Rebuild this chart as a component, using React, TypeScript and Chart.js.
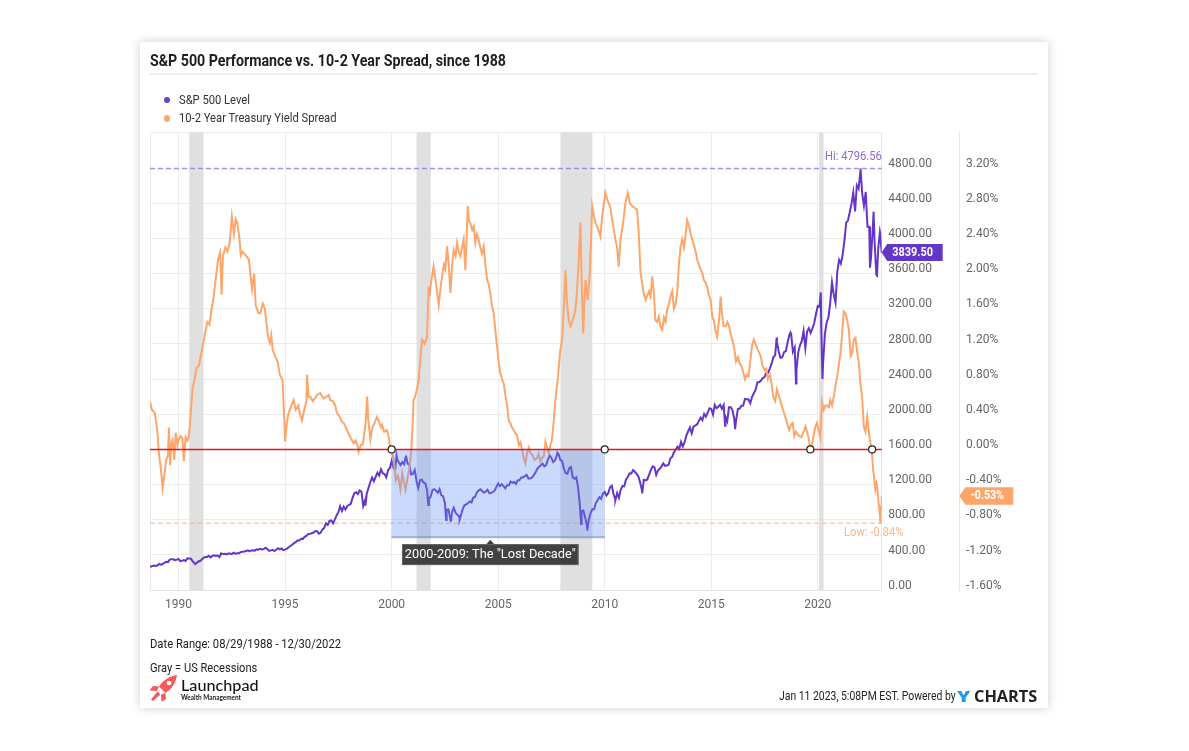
import React, { useEffect, useLayoutEffect, useRef } from "react";
import { Chart, registerables } from "chart.js";

Chart.register(...registerables);

// ---------------- DATA ----------------
const TITLE = "S&P 500 Performance vs. 10-2 Year Spread, since 1988";
const SERIES_NAMES = ["S&P 500 Level", "10-2 Year Treasury Yield Spread"];
const COLORS = { sp: "#6535c9", spread: "#fca66b", spDot: "#6a3fcb", spreadDot: "#fca66b" };

const X_MIN = 1988.66; // 08/29/1988
const X_MAX = 2023.0; // 12/30/2022
const yearTicks = [1990, 1995, 2000, 2005, 2010, 2015, 2020];
const spTicks = [0, 400, 800, 1200, 1600, 2000, 2400, 2800, 3200, 3600, 4000, 4400, 4800];
const spreadTicks = [-1.6, -1.2, -0.8, -0.4, 0, 0.4, 0.8, 1.2, 1.6, 2.0, 2.4, 2.8, 3.2];
const SP_MIN = 0;
const SP_MAX = 5208;
const SPREAD_MIN = -1.6;
const SPREAD_MAX = 3.608;

// US recessions (decimal years)
const recessions: [number, number][] = [
  [1990.5, 1991.17],
  [2001.17, 2001.84],
  [2007.92, 2009.42],
  [2020.06, 2020.27],
];

// S&P 500 first point and month-end closes, Sep 1988 .. Dec 2022
const spFirst: [number, number] = [1988.66, 262];
const spMonthEnd = [
  272, 279, 274, 278,
  297, 289, 295, 310, 321, 318, 346, 351, 349, 340, 346, 353,
  329, 332, 340, 331, 361, 358, 356, 323, 306, 304, 322, 330,
  344, 367, 375, 375, 390, 371, 388, 395, 388, 392, 375, 417,
  409, 413, 404, 415, 415, 408, 424, 414, 418, 419, 431, 436,
  439, 443, 452, 440, 450, 451, 448, 464, 459, 468, 462, 466,
  482, 467, 446, 451, 457, 444, 458, 475, 463, 472, 454, 459,
  470, 487, 501, 515, 533, 545, 562, 562, 584, 582, 605, 616,
  636, 640, 646, 654, 669, 671, 640, 652, 687, 705, 757, 741,
  786, 791, 757, 801, 848, 885, 954, 899, 947, 915, 955, 970,
  980, 1049, 1102, 1112, 1091, 1134, 1121, 957, 1017, 1099, 1164, 1229,
  1280, 1238, 1286, 1335, 1302, 1373, 1329, 1320, 1283, 1363, 1389, 1469,
  1394, 1366, 1499, 1452, 1421, 1455, 1431, 1518, 1437, 1429, 1315, 1320,
  1366, 1240, 1160, 1249, 1256, 1224, 1211, 1134, 1041, 1060, 1139, 1148,
  1130, 1107, 1147, 1077, 1067, 990, 912, 916, 815, 886, 936, 880,
  856, 841, 848, 917, 964, 975, 990, 1008, 996, 1051, 1058, 1112,
  1131, 1145, 1126, 1107, 1121, 1141, 1102, 1104, 1115, 1130, 1174, 1212,
  1181, 1204, 1181, 1157, 1192, 1191, 1234, 1220, 1229, 1207, 1249, 1248,
  1280, 1281, 1295, 1311, 1270, 1270, 1277, 1304, 1336, 1378, 1401, 1418,
  1438, 1407, 1421, 1482, 1531, 1503, 1455, 1474, 1527, 1549, 1481, 1468,
  1379, 1331, 1323, 1386, 1400, 1280, 1267, 1283, 1166, 969, 896, 903,
  826, 735, 798, 873, 919, 919, 987, 1021, 1057, 1036, 1096, 1115,
  1074, 1104, 1169, 1187, 1089, 1031, 1102, 1049, 1141, 1183, 1181, 1258,
  1286, 1327, 1326, 1364, 1345, 1321, 1292, 1219, 1131, 1253, 1247, 1258,
  1312, 1366, 1408, 1398, 1310, 1362, 1379, 1407, 1441, 1412, 1416, 1426,
  1498, 1515, 1569, 1598, 1631, 1606, 1686, 1633, 1682, 1757, 1806, 1848,
  1783, 1859, 1872, 1884, 1924, 1960, 1931, 2003, 1972, 2018, 2068, 2059,
  1995, 2105, 2068, 2086, 2107, 2063, 2104, 1972, 1920, 2079, 2080, 2044,
  1940, 1932, 2060, 2065, 2097, 2099, 2174, 2171, 2168, 2126, 2199, 2239,
  2279, 2364, 2363, 2384, 2412, 2423, 2470, 2472, 2519, 2575, 2648, 2674,
  2824, 2714, 2641, 2648, 2705, 2718, 2816, 2902, 2914, 2712, 2760, 2507,
  2704, 2784, 2834, 2946, 2752, 2942, 2980, 2926, 2977, 3038, 3141, 3231,
  3226, 2954, 2585, 2912, 3044, 3100, 3271, 3500, 3363, 3270, 3622, 3756,
  3714, 3811, 3973, 4181, 4204, 4298, 4395, 4523, 4308, 4605, 4567, 4766,
  4516, 4374, 4530, 4132, 4132, 3785, 4130, 3955, 3586, 3872, 4080, 3839.5,
];
const SP_FIRST_MONTH = 9; // September 1988
// intra-month highs / lows seen on the chart
const spExtremes: [number, number][] = [
  [1990.78, 295], [1998.77, 959], [2000.23, 1527], [2000.68, 1520], [2001.72, 966],
  [2002.56, 797], [2002.78, 777], [2003.19, 800], [2007.78, 1565], [2008.89, 752],
  [2009.18, 677], [2010.5, 1022], [2011.76, 1099], [2015.65, 1868], [2016.12, 1829],
  [2018.07, 2873], [2018.72, 2930], [2018.98, 2351], [2020.14, 3386], [2020.22, 2400],
  [2022.005, 4796.56], [2022.45, 3667], [2022.62, 4305], [2022.78, 3577], [2022.92, 4076],
];

// 10-2 year spread (%), [decimal year, value]
const spreadPoints: [number, number][] = [
  [1988.66, 0.54], [1988.75, 0.45], [1988.88, 0.42], [1989.0, 0.22], [1989.08, -0.05],
  [1989.17, -0.22], [1989.25, -0.44], [1989.33, -0.3], [1989.42, -0.12], [1989.5, -0.07],
  [1989.55, 0.25], [1989.6, -0.18], [1989.67, 0.08], [1989.72, 0.11], [1989.8, -0.12],
  [1989.87, 0.19], [1989.95, 0.05], [1990.0, 0.11], [1990.1, 0.15], [1990.18, 0.13],
  [1990.25, -0.13], [1990.33, 0.14], [1990.42, 0.1], [1990.48, 0.14], [1990.55, 0.33],
  [1990.65, 0.68], [1990.75, 0.8], [1990.85, 0.93], [1990.95, 0.95], [1991.05, 1.07],
  [1991.15, 1.2], [1991.25, 1.33], [1991.35, 1.45], [1991.45, 1.42], [1991.55, 1.6],
  [1991.65, 1.74], [1991.75, 1.95], [1991.85, 2.16], [1991.95, 2.24], [1992.02, 1.76],
  [1992.08, 2.2], [1992.2, 2.3], [1992.3, 2.25], [1992.4, 2.35], [1992.5, 2.65],
  [1992.6, 2.45], [1992.68, 2.62], [1992.75, 2.58], [1992.85, 2.42], [1992.92, 2.21],
  [1993.0, 2.25], [1993.15, 2.21], [1993.3, 2.16], [1993.45, 1.82], [1993.55, 2.0],
  [1993.62, 1.64], [1993.75, 1.55], [1993.84, 1.55], [1993.95, 1.66], [1994.05, 1.6],
  [1994.12, 1.45], [1994.2, 1.28], [1994.28, 1.21], [1994.35, 1.3], [1994.42, 1.13],
  [1994.55, 1.05], [1994.65, 1.0], [1994.75, 0.85], [1994.88, 0.79], [1994.95, 0.4],
  [1995.0, 0.09], [1995.08, 0.3], [1995.16, 0.41], [1995.3, 0.5], [1995.4, 0.56],
  [1995.5, 0.45], [1995.63, 0.5], [1995.7, 0.4], [1995.79, 0.33], [1995.9, 0.45],
  [1996.0, 0.55], [1996.03, 0.85], [1996.1, 0.6], [1996.18, 0.6], [1996.3, 0.55],
  [1996.4, 0.58], [1996.5, 0.62], [1996.65, 0.64], [1996.8, 0.58], [1996.95, 0.6],
  [1997.05, 0.62], [1997.12, 0.56], [1997.25, 0.55], [1997.35, 0.5], [1997.44, 0.41],
  [1997.55, 0.38], [1997.65, 0.32], [1997.75, 0.3], [1997.85, 0.25], [1997.98, 0.18],
  [1998.1, 0.12], [1998.22, 0.07], [1998.32, 0.1], [1998.4, 0.04], [1998.45, -0.03],
  [1998.55, 0.05], [1998.65, 0.06], [1998.69, 0.14], [1998.78, 0.3], [1998.85, 0.6],
  [1998.9, 0.35], [1999.0, 0.11], [1999.1, 0.25], [1999.2, 0.3], [1999.31, 0.37],
  [1999.4, 0.32], [1999.5, 0.25], [1999.55, 0.28], [1999.65, 0.2], [1999.78, 0.22],
  [1999.88, 0.12], [1999.94, 0.0], [2000.02, -0.05], [2000.1, -0.12], [2000.2, -0.35],
  [2000.3, -0.3], [2000.41, -0.46], [2000.5, -0.27], [2000.58, -0.38], [2000.65, -0.46],
  [2000.75, -0.32], [2000.82, -0.24], [2000.91, -0.04], [2000.97, 0.2], [2001.03, 0.56],
  [2001.1, 0.6], [2001.2, 0.7], [2001.27, 0.79], [2001.35, 1.05], [2001.43, 1.25],
  [2001.55, 1.2], [2001.66, 1.28], [2001.74, 1.85], [2001.78, 1.74], [2001.85, 1.9],
  [2001.97, 2.08], [2002.05, 1.95], [2002.13, 1.8], [2002.21, 1.64], [2002.3, 1.85],
  [2002.37, 1.97], [2002.45, 2.1], [2002.52, 2.05], [2002.6, 2.31], [2002.68, 2.1],
  [2002.76, 1.78], [2002.84, 2.1], [2002.91, 2.27], [2003.0, 2.2], [2003.07, 2.35],
  [2003.15, 2.25], [2003.23, 2.2], [2003.3, 2.3], [2003.38, 2.39], [2003.46, 2.04],
  [2003.52, 2.4], [2003.57, 2.77], [2003.63, 2.6], [2003.69, 2.58], [2003.78, 2.5],
  [2003.85, 2.54], [2003.93, 2.35], [2004.0, 2.45], [2004.08, 2.39], [2004.16, 2.3],
  [2004.24, 2.23], [2004.32, 2.31], [2004.4, 2.1], [2004.48, 1.93], [2004.55, 1.88],
  [2004.63, 1.78], [2004.7, 1.65], [2004.79, 1.55], [2004.87, 1.35], [2004.95, 1.17],
  [2005.02, 1.0], [2005.1, 0.87], [2005.18, 0.8], [2005.26, 0.75], [2005.35, 0.6],
  [2005.42, 0.5], [2005.49, 0.33], [2005.57, 0.3], [2005.65, 0.25], [2005.73, 0.22],
  [2005.81, 0.18], [2005.89, 0.16], [2005.97, 0.05], [2006.05, 0.08], [2006.12, 0.0],
  [2006.2, -0.1], [2006.28, -0.16], [2006.36, -0.04], [2006.44, 0.02], [2006.51, -0.04],
  [2006.6, -0.06], [2006.7, -0.12], [2006.83, -0.1], [2006.9, -0.05], [2006.98, -0.14],
  [2007.06, -0.1], [2007.14, -0.08], [2007.22, 0.09], [2007.3, 0.02], [2007.37, -0.04],
  [2007.45, 0.05], [2007.52, 0.1], [2007.6, 0.3], [2007.68, 0.55], [2007.75, 0.7],
  [2007.82, 0.85], [2007.9, 1.1], [2008.0, 1.25], [2008.08, 1.6], [2008.16, 2.04],
  [2008.22, 1.7], [2008.31, 1.47], [2008.4, 1.4], [2008.47, 1.45], [2008.55, 1.51],
  [2008.63, 1.6], [2008.7, 1.8], [2008.78, 2.16], [2008.86, 2.58], [2008.93, 1.8],
  [2008.99, 1.32], [2009.05, 1.7], [2009.1, 1.93], [2009.2, 1.7], [2009.3, 2.01],
  [2009.36, 2.4], [2009.41, 2.77], [2009.5, 2.65], [2009.57, 2.58], [2009.7, 2.5],
  [2009.8, 2.42], [2009.88, 2.65], [2009.96, 2.8], [2010.03, 2.92], [2010.11, 2.85],
  [2010.19, 2.8], [2010.27, 2.75], [2010.35, 2.61], [2010.43, 2.5], [2010.5, 2.39],
  [2010.58, 2.3], [2010.66, 2.08], [2010.74, 2.39], [2010.85, 2.55], [2010.97, 2.8],
  [2011.08, 2.92], [2011.18, 2.8], [2011.29, 2.77], [2011.4, 2.75], [2011.52, 2.73],
  [2011.6, 2.46], [2011.68, 2.01], [2011.75, 1.9], [2011.83, 1.78], [2011.92, 1.7],
  [2012.0, 1.75], [2012.08, 1.8], [2012.15, 1.74], [2012.23, 1.97], [2012.3, 1.8],
  [2012.38, 1.47], [2012.46, 1.45], [2012.54, 1.51], [2012.62, 1.4], [2012.7, 1.36],
  [2012.78, 1.5], [2012.86, 1.45], [2012.93, 1.59], [2013.01, 1.65], [2013.09, 1.74],
  [2013.17, 1.8], [2013.25, 1.6], [2013.33, 1.66], [2013.4, 1.78], [2013.48, 2.1],
  [2013.56, 2.31], [2013.64, 2.39], [2013.72, 2.3], [2013.8, 2.45], [2013.87, 2.61],
  [2013.95, 2.55], [2014.03, 2.46], [2014.12, 2.38], [2014.2, 2.31], [2014.27, 2.25],
  [2014.34, 2.16], [2014.42, 2.1], [2014.5, 2.05], [2014.58, 2.01], [2014.65, 1.93],
  [2014.73, 1.9], [2014.81, 1.85], [2014.89, 1.75], [2014.97, 1.7], [2015.05, 1.5],
  [2015.12, 1.47], [2015.2, 1.35], [2015.28, 1.28], [2015.36, 1.45], [2015.44, 1.74],
  [2015.5, 1.55], [2015.58, 1.4], [2015.68, 1.4], [2015.76, 1.45], [2015.84, 1.4],
  [2015.92, 1.3], [2015.99, 1.25], [2016.08, 1.15], [2016.16, 1.0], [2016.25, 1.05],
  [2016.33, 0.98], [2016.42, 0.95], [2016.5, 0.88], [2016.58, 0.8], [2016.66, 0.85],
  [2016.75, 0.83], [2016.83, 1.0], [2016.92, 1.19], [2017.0, 1.25], [2017.08, 1.2],
  [2017.16, 1.15], [2017.25, 1.1], [2017.33, 1.05], [2017.41, 0.95], [2017.5, 0.9],
  [2017.58, 0.92], [2017.66, 0.8], [2017.75, 0.85], [2017.83, 0.75], [2017.91, 0.6],
  [2018.0, 0.55], [2018.08, 0.68], [2018.16, 0.62], [2018.25, 0.55], [2018.33, 0.48],
  [2018.41, 0.42], [2018.5, 0.35], [2018.58, 0.28], [2018.66, 0.22], [2018.74, 0.28],
  [2018.82, 0.3], [2018.9, 0.15], [2018.98, 0.2], [2019.06, 0.17], [2019.14, 0.15],
  [2019.22, 0.14], [2019.3, 0.18], [2019.38, 0.22], [2019.42, 0.26], [2019.5, 0.2],
  [2019.58, 0.12], [2019.65, 0.0], [2019.72, 0.05], [2019.8, 0.15], [2019.89, 0.26],
  [2019.96, 0.3], [2020.04, 0.22], [2020.12, 0.14], [2020.2, 0.54], [2020.28, 0.45],
  [2020.36, 0.5], [2020.44, 0.5], [2020.52, 0.48], [2020.59, 0.56], [2020.67, 0.5],
  [2020.75, 0.6], [2020.83, 0.72], [2020.91, 0.83], [2020.98, 0.95], [2021.06, 1.09],
  [2021.14, 1.3], [2021.22, 1.57], [2021.3, 1.55], [2021.38, 1.47], [2021.46, 1.36],
  [2021.54, 1.06], [2021.62, 1.1], [2021.69, 1.25], [2021.77, 1.27], [2021.85, 1.1],
  [2021.93, 0.98], [2022.0, 0.75], [2022.08, 0.6], [2022.16, 0.26], [2022.24, 0.2],
  [2022.32, 0.37], [2022.39, 0.22], [2022.45, 0.1], [2022.52, 0.02], [2022.56, -0.1],
  [2022.6, -0.24], [2022.64, -0.31], [2022.7, -0.46], [2022.76, -0.39], [2022.8, -0.45],
  [2022.86, -0.62], [2022.9, -0.7], [2022.94, -0.84], [2022.97, -0.65], [2023.0, -0.53],
];

const SP_HIGH = 4796.56;
const SPREAD_LOW = -0.84;
const SP_LAST = 3839.5;
const SPREAD_LAST = -0.53;
const zeroMarkers = [2000.0, 2010.0, 2019.65, 2022.55];
const lostDecade = { start: 2000, end: 2010, top: 0, bottom: -1.0, anchor: 2004.63, label: '2000-2009: The "Lost Decade"' };

// ---------------- helpers ----------------
function fitText(ctx: CanvasRenderingContext2D, text: string, x: number, y: number, w: number, align: "left" | "right" | "center") {
  const m = ctx.measureText(text).width || 1;
  const left = align === "left" ? x : align === "right" ? x - w : x - w / 2;
  ctx.save();
  ctx.translate(left, y);
  ctx.scale(w / m, 1);
  ctx.textAlign = "left";
  ctx.textBaseline = "middle";
  ctx.fillText(text, 0, 0);
  ctx.restore();
}

const overlayPlugin = {
  id: "overlay",
  beforeDatasetsDraw(chart: any) {
    const { ctx, chartArea: a, scales } = chart;
    const x = scales.x, y = scales.y, y1 = scales.y1;
    ctx.save();
    ctx.fillStyle = "#e0e0e0";
    for (const [s, e] of recessions) {
      const x0 = x.getPixelForValue(s), x1 = x.getPixelForValue(e);
      ctx.fillRect(x0, a.top, x1 - x0, a.bottom - a.top);
    }
    // Hi dashed line
    const yHi = y.getPixelForValue(SP_HIGH);
    ctx.setLineDash([5, 3]);
    ctx.lineWidth = 1.5;
    ctx.strokeStyle = "rgba(130,100,215,0.65)";
    ctx.beginPath(); ctx.moveTo(a.left, yHi); ctx.lineTo(a.right, yHi); ctx.stroke();
    // Low dashed line
    const yLow = y1.getPixelForValue(SPREAD_LOW);
    ctx.strokeStyle = "rgba(252,170,110,0.6)";
    ctx.beginPath(); ctx.moveTo(a.left, yLow); ctx.lineTo(a.right, yLow); ctx.stroke();
    ctx.restore();
  },
  afterDatasetsDraw(chart: any) {
    const { ctx, chartArea: a, scales } = chart;
    const x = scales.x, y = scales.y, y1 = scales.y1;
    ctx.save();
    // Lost decade box
    const bx0 = x.getPixelForValue(lostDecade.start), bx1 = x.getPixelForValue(lostDecade.end);
    const by0 = y1.getPixelForValue(lostDecade.top), by1 = y1.getPixelForValue(lostDecade.bottom);
    ctx.fillStyle = "rgba(100,150,245,0.35)";
    ctx.fillRect(bx0, by0, bx1 - bx0, by1 - by0);
    ctx.strokeStyle = "rgba(110,130,170,0.55)";
    ctx.lineWidth = 2;
    ctx.beginPath(); ctx.moveTo(bx0, by1); ctx.lineTo(bx1, by1); ctx.stroke();

    // zero line
    const y0 = y1.getPixelForValue(0);
    ctx.strokeStyle = "#ee1515";
    ctx.lineWidth = 1.5;
    ctx.beginPath(); ctx.moveTo(a.left, y0); ctx.lineTo(a.right, y0); ctx.stroke();
    for (const v of zeroMarkers) {
      const px = x.getPixelForValue(v);
      ctx.beginPath(); ctx.arc(px, y0, 3.5, 0, Math.PI * 2);
      ctx.fillStyle = "#fff"; ctx.fill();
      ctx.lineWidth = 1.2; ctx.strokeStyle = "#222"; ctx.stroke();
    }

    // callout
    const cx = x.getPixelForValue(lostDecade.anchor);
    ctx.fillStyle = "#3a3a3a";
    ctx.beginPath(); ctx.moveTo(cx - 4, by1 + 7); ctx.lineTo(cx + 4, by1 + 7); ctx.lineTo(cx, by1 + 2.5); ctx.closePath(); ctx.fill();
    const rw = 176.6, rh = 21, rx = cx - rw / 2, ry = by1 + 6.8;
    ctx.fillStyle = "rgba(45,45,45,0.9)";
    ctx.fillRect(rx, ry, rw, rh);
    ctx.strokeStyle = "rgba(120,120,120,0.6)"; ctx.lineWidth = 1;
    ctx.strokeRect(rx + 0.5, ry + 0.5, rw - 1, rh - 1);
    ctx.fillStyle = "#ffffff";
    ctx.font = "13px Roboto";
    fitText(ctx, lostDecade.label, rx + 2.8, ry + rh / 2 + 0.5, 171, "left");

    // Hi / Low labels
    ctx.font = "12px Roboto";
    ctx.fillStyle = "#8a6ad6";
    const yHi = y.getPixelForValue(SP_HIGH);
    fitText(ctx, "Hi: " + SP_HIGH.toFixed(2), a.right, yHi - 11.5, 56.7, "right");
    ctx.fillStyle = "#fbb68a";
    const yLow = y1.getPixelForValue(SPREAD_LOW);
    fitText(ctx, "Low: " + SPREAD_LOW.toFixed(2) + "%", a.right - 8, yLow + 9.8, 59.3, "center");

    // last value badges
    const yl = y.getPixelForValue(SP_LAST);
    const tx = a.right;
    ctx.fillStyle = "#6236c6";
    ctx.beginPath();
    ctx.moveTo(tx, yl); ctx.lineTo(tx + 5.5, yl - 8.5); ctx.lineTo(tx + 61, yl - 8.5);
    ctx.lineTo(tx + 61, yl + 8.5); ctx.lineTo(tx + 5.5, yl + 8.5); ctx.closePath(); ctx.fill();
    ctx.fillStyle = "#fff";
    ctx.font = "bold 12px Roboto";
    fitText(ctx, SP_LAST.toFixed(2), tx + 31, yl + 0.5, 40.7, "center");

    const ys = y1.getPixelForValue(SPREAD_LAST);
    const tx2 = y1.left;
    ctx.fillStyle = "#fca66b";
    ctx.beginPath();
    ctx.moveTo(tx2, ys); ctx.lineTo(tx2 + 6, ys - 8.7); ctx.lineTo(tx2 + 54, ys - 8.7);
    ctx.lineTo(tx2 + 54, ys + 8.7); ctx.lineTo(tx2 + 6, ys + 8.7); ctx.closePath(); ctx.fill();
    ctx.fillStyle = "#fff";
    fitText(ctx, SPREAD_LAST.toFixed(2) + "%", tx2 + 28, ys + 0.5, 33.3, "center");
    ctx.restore();
  },
};

function FitText(props: { x: number; cy: number; w: number; size: number; weight?: number; color?: string; family?: string; text: string }) {
  const { x, cy, w, size, weight = 400, color = "#222", family = "Roboto", text } = props;
  const ref = useRef<HTMLSpanElement>(null);
  useLayoutEffect(() => {
    const el = ref.current;
    if (!el) return;
    el.style.transform = "none";
    const nat = el.getBoundingClientRect().width;
    if (nat > 0) el.style.transform = `scaleX(${w / nat})`;
  }, [w, text, size]);
  return (
    <span
      ref={ref}
      style={{
        position: "absolute", left: x, top: cy - size * 0.6, fontSize: size, lineHeight: `${size * 1.2}px`,
        fontWeight: weight, color, fontFamily: family, whiteSpace: "nowrap", display: "inline-block",
        transformOrigin: "0 50%",
      }}
    >
      {text}
    </span>
  );
}

export default function App() {
  const canvasRef = useRef<HTMLCanvasElement>(null);

  useEffect(() => {
    const canvas = canvasRef.current;
    if (!canvas) return;
    const spData = [
      { x: spFirst[0], y: spFirst[1] },
      ...spMonthEnd.map((v, i) => ({ x: 1988 + (SP_FIRST_MONTH + i) / 12, y: v })),
      ...spExtremes.map(([d, v]) => ({ x: d, y: v })),
    ].sort((p, q) => p.x - q.x);
    const spreadData = spreadPoints.map(([d, v]) => ({ x: d, y: v }));

    Chart.defaults.font.family = "Roboto";
    const chart = new Chart(canvas, {
      type: "line",
      data: {
        datasets: [
          { label: SERIES_NAMES[0], data: spData, yAxisID: "y", borderColor: COLORS.sp, backgroundColor: COLORS.sp, borderWidth: 2, pointRadius: 0, order: 2 } as any,
          { label: SERIES_NAMES[1], data: spreadData, yAxisID: "y1", borderColor: COLORS.spread, backgroundColor: COLORS.spread, borderWidth: 2, pointRadius: 0, order: 1 } as any,
        ],
      },
      options: {
        responsive: false,
        animation: false,
        events: [],
        layout: { padding: { left: 10, top: 90.3, right: 28.7, bottom: 90 } },
        plugins: { legend: { display: false }, tooltip: { enabled: false }, title: { display: false } },
        scales: {
          x: {
            type: "linear", min: X_MIN, max: X_MAX,
            afterBuildTicks: (s: any) => { s.ticks = [X_MIN, ...yearTicks].map((v) => ({ value: v })); },
            afterFit: (s: any) => { s.height = 28; },
            ticks: { autoSkip: false, maxRotation: 0, padding: 7.5, color: "#666", font: { size: 12 }, callback: (v: any) => (yearTicks.includes(v) ? String(v) : "") },
            grid: { color: "#ececec", drawTicks: false },
            border: { color: "#e3e3e3" },
          },
          y: {
            type: "linear", position: "right", min: SP_MIN, max: SP_MAX, weight: 0,
            afterBuildTicks: (s: any) => { s.ticks = [...spTicks, SP_MAX].map((v) => ({ value: v })); },
            afterFit: (s: any) => { s.width = 77.6; },
            ticks: { autoSkip: false, padding: 6.6, labelOffset: -4.3, color: "#666", font: { size: 12 }, callback: (v: any) => (spTicks.includes(v) ? Number(v).toFixed(2) : "") },
            grid: { color: "#ececec", drawTicks: false },
            border: { color: "#e3e3e3" },
          },
          y1: {
            type: "linear", position: "right", min: SPREAD_MIN, max: SPREAD_MAX, weight: 1,
            afterBuildTicks: (s: any) => { s.ticks = spreadTicks.map((v) => ({ value: v })); },
            afterFit: (s: any) => { s.width = 60; },
            ticks: { autoSkip: false, padding: 6.7, labelOffset: -4.3, color: "#666", font: { size: 12 }, callback: (v: any) => Number(v).toFixed(2) + "%" },
            grid: { display: false, drawTicks: false },
            border: { color: "#e6e6e6" },
          },
        },
      } as any,
      plugins: [overlayPlugin],
    });
    return () => chart.destroy();
  }, []);

  return (
    <div style={{ position: "absolute", left: 0, top: 0, width: 1189, height: 751, background: "#fff", overflow: "hidden", fontFamily: "Roboto" }}>
      <div style={{ position: "absolute", left: 140, top: 42, width: 908, height: 666, background: "#fff", boxShadow: "0 0 10px rgba(0,0,0,0.2)" }}>
        <canvas ref={canvasRef} width={908} height={666} style={{ display: "block", width: 908, height: 666 }} />
      </div>
      <FitText x={150} cy={61} w={356} size={16.5} weight={700} color="#1e1e1e" text={TITLE} />
      <div style={{ position: "absolute", left: 150, top: 73, width: 888, height: 2, background: "#ececec" }} />
      <div style={{ position: "absolute", left: 163.5, top: 96.8, width: 6.4, height: 6.4, borderRadius: "50%", background: COLORS.spDot }} />
      <div style={{ position: "absolute", left: 163.5, top: 115.3, width: 6.4, height: 6.4, borderRadius: "50%", background: COLORS.spreadDot }} />
      <FitText x={179} cy={100.2} w={71} size={13} color="#333" text={SERIES_NAMES[0]} />
      <FitText x={179} cy={117.6} w={157.5} size={13} color="#333" text={SERIES_NAMES[1]} />

      <FitText x={150} cy={644} w={191} size={13} color="#222" text="Date Range: 08/29/1988 - 12/30/2022" />
      <FitText x={150} cy={667.6} w={107.3} size={13} color="#222" text="Gray = US Recessions" />

      <svg style={{ position: "absolute", left: 149, top: 675 }} width={29} height={27} viewBox="0 0 29 27">
        <g fill="#f65a5b">
          <path d="M28 0 C21 1 14 5 10 11.5 L16.5 18 C23 14 27 7 28 0 Z" />
          <path d="M10 11.5 L4 11 L0.5 15.5 L8 16 Z" />
          <path d="M16.5 18 L17 24 L12.5 27 L12 19.5 Z" />
          <path d="M8.5 16.5 L11.5 19.5 L4 26 L2 24.5 Z" />
        </g>
        <circle cx="20" cy="8" r="2.3" fill="#fff" />
      </svg>
      <FitText x={180.7} cy={684.3} w={77.6} size={16} weight={500} color="#151515" family="Lato" text="Launchpad" />
      <FitText x={180.7} cy={697.6} w={60} size={7} weight={700} color="#222" family="Lato" text="Wealth Management" />

      <FitText x={779.3} cy={696.2} w={176.7} size={12} color="#222" text="Jan 11 2023, 5:08PM EST. Powered by" />
      <FitText x={956.7} cy={696.2} w={13.3} size={15.5} weight={800} color="#1c9fe0" family="Open Sans" text="Y" />
      <FitText x={974} cy={696.2} w={63.3} size={15.5} weight={700} color="#222" family="Open Sans" text="CHARTS" />
    </div>
  );
}
